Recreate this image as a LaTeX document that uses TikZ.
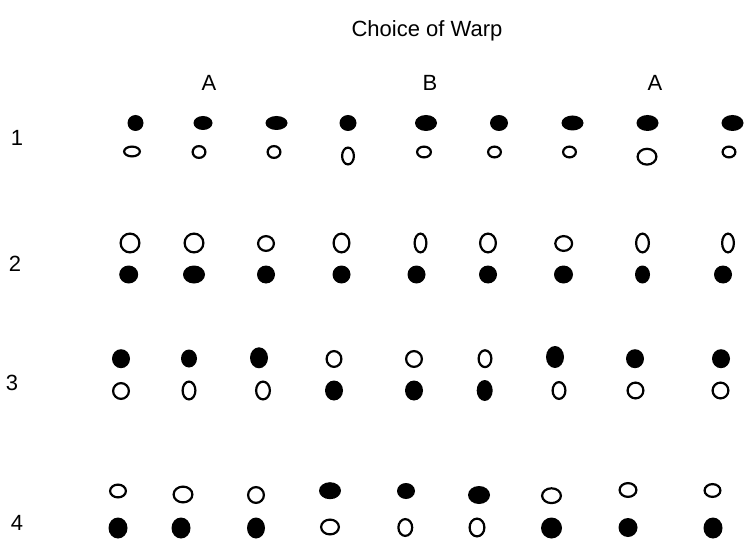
\documentclass[tikz,border=0pt]{standalone}
\usepackage{fontspec}
\setmainfont{Liberation Sans}
\usetikzlibrary{shapes.geometric}
\tikzset{
  fdot/.style={ellipse,fill=black,draw=none,inner sep=0pt,outer sep=0pt},
  odot/.style={ellipse,fill=white,draw=black,line width=2.2pt,inner sep=0pt,outer sep=0pt},
  lbl/.style={inner sep=0pt,anchor=base,font=\fontsize{22}{26}\selectfont}
}
\newcommand{\Fd}[5]{\node[fdot,minimum width=#4pt,minimum height=#5pt] (#1) at (#2,#3) {};}
\newcommand{\Od}[5]{\node[odot,minimum width={#4pt-2.2pt},minimum height={#5pt-2.2pt}] (#1) at (#2,#3) {};}
\begin{document}
\begin{tikzpicture}[x=1pt,y=-1pt]
\useasboundingbox[fill=white] (0,0) rectangle (744,540);
% labels
\node[lbl] (title) at (427,37) {Choice of Warp};
\node[lbl] (ca) at (209,91) {A};
\node[lbl] (cb) at (430,91) {B};
\node[lbl] (cc) at (655,91) {A};
\node[lbl] (r1) at (17,146) {1};
\node[lbl] (r2) at (15,271) {2};
\node[lbl] (r3) at (12,390) {3};
\node[lbl] (r4) at (17,530) {4};
% row 1
\Fd{a1}{135.5}{123}{16}{16}
\Fd{a2}{203}{123}{19}{14}
\Fd{a3}{276.5}{123}{22}{14}
\Fd{a4}{348}{123}{17}{16}
\Fd{a5}{426}{123}{22}{16}
\Fd{a6}{499}{123}{18}{16}
\Fd{a7}{572.5}{123}{22}{15}
\Fd{a8}{647.5}{123}{22}{16}
\Fd{a9}{732.5}{123}{22}{16}
\Od{b1}{132}{151.5}{18}{12}
\Od{b2}{199}{152}{15}{14}
\Od{b3}{274}{152}{15}{14}
\Od{b4}{348}{156}{14}{19}
\Od{b5}{424}{152}{16}{13}
\Od{b6}{494.5}{152}{15}{13}
\Od{b7}{569.5}{152}{15}{13}
\Od{b8}{647}{156.7}{21}{18}
\Od{b9}{729}{152}{15}{13}
% row 2
\Od{c1}{130}{243}{21}{21}
\Od{c2}{194}{243}{21}{21}
\Od{c3}{266}{243.5}{18}{17}
\Od{c4}{341.5}{243}{18}{21}
\Od{c5}{420.5}{243}{14}{21}
\Od{c6}{488}{243}{18}{21}
\Od{c7}{563.7}{243.5}{19}{17}
\Od{c8}{642.5}{243}{15}{21}
\Od{c9}{728}{243}{14}{21}
\Fd{d1}{128.7}{274.5}{19}{18}
\Fd{d2}{194}{274.5}{22}{18}
\Fd{d3}{266}{274.5}{18}{18}
\Fd{d4}{341.5}{274.5}{18}{18}
\Fd{d5}{416.5}{274.5}{18}{18}
\Fd{d6}{488}{274.5}{18}{18}
\Fd{d7}{563.5}{274.5}{19}{18}
\Fd{d8}{642.5}{274.5}{15}{18}
\Fd{d9}{723}{274.5}{18}{18}
% row 3
\Fd{e1}{121}{358.7}{18}{19}
\Fd{e2}{189}{358.5}{16}{18}
\Fd{e3}{259}{357.8}{18}{21}
\Od{e4}{334}{359}{17}{18}
\Od{e5}{414}{359}{18}{18}
\Od{e6}{485}{358.7}{15}{19}
\Fd{e7}{555}{357}{18}{22}
\Fd{e8}{635}{358.7}{18}{19}
\Fd{e9}{721}{358.7}{18}{19}
\Od{f1}{121}{391}{18}{18}
\Od{f2}{189}{390.5}{15}{20}
\Od{f3}{263}{390.5}{16}{20}
\Fd{f4}{334}{390.5}{18}{20}
\Fd{f5}{414}{390.5}{18}{20}
\Fd{f6}{484.7}{390.5}{16}{21}
\Od{f7}{559}{390.5}{15}{19}
\Od{f8}{635.5}{390.5}{18}{18}
\Od{f9}{720.5}{390.5}{18}{18}
% row 4
\Od{g1}{118}{491}{18}{15}
\Od{g2}{183}{494.5}{21}{18}
\Od{g3}{256}{495}{18}{18}
\Fd{g4}{330}{490.7}{22}{17}
\Fd{g5}{406}{491}{18}{16}
\Fd{g6}{479}{495}{22}{18}
\Od{g7}{551.5}{495.7}{21}{17}
\Od{g8}{628}{490}{19}{16}
\Od{g9}{712.5}{490.5}{18}{15}
\Fd{h1}{118}{528}{19}{21}
\Fd{h2}{181}{528}{19}{21}
\Fd{h3}{256}{528}{18}{21}
\Od{h4}{330}{527}{20}{17}
\Od{h5}{405.3}{527.5}{16}{19}
\Od{h6}{477}{527.5}{17}{20}
\Fd{h7}{551.5}{528}{21}{21}
\Fd{h8}{628}{527.5}{19}{19}
\Fd{h9}{713}{528}{19}{21}
\end{tikzpicture}
\end{document}
